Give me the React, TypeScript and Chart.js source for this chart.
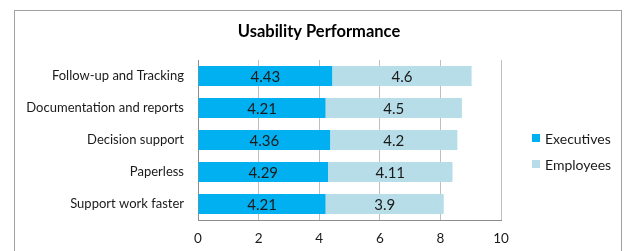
import React, { useEffect, useRef } from "react";
import { Chart, registerables } from "chart.js";

Chart.register(...registerables);

const categories = [
  "Follow-up and Tracking",
  "Documentation and reports",
  "Decision support",
  "Paperless",
  "Support work faster",
];
const executives = [4.43, 4.21, 4.36, 4.29, 4.21];
const employees = [4.6, 4.5, 4.2, 4.11, 3.9];
const seriesNames = ["Executives", "Employees"];
const xTicks = [0, 2, 4, 6, 8, 10];
const titleText = "Usability Performance";

const FONT = "Lato, 'Open Sans', sans-serif";

const labelPlugin = {
  id: "barLabels",
  afterDatasetsDraw(chart: any) {
    const ctx = chart.ctx;
    ctx.save();
    ctx.font = `15px ${FONT}`;
    ctx.fillStyle = "#1a1a1a";
    ctx.textAlign = "center";
    ctx.textBaseline = "middle";
    chart.data.datasets.forEach((ds: any, di: number) => {
      const meta = chart.getDatasetMeta(di);
      meta.data.forEach((bar: any, i: number) => {
        const x = (bar.x + bar.base) / 2;
        ctx.fillText(String(ds.data[i]), x, bar.y + 1);
      });
    });
    ctx.restore();
  },
};

const titleLegendPlugin = {
  id: "titleLegend",
  afterDraw(chart: any) {
    const ctx = chart.ctx;
    ctx.save();
    ctx.font = `bold 16.5px ${FONT}`;
    ctx.fillStyle = "#000";
    ctx.textAlign = "center";
    ctx.textBaseline = "middle";
    ctx.fillText(titleText, chart.width / 2 + 1, 21);
    ctx.font = `14px ${FONT}`;
    ctx.textAlign = "left";
    chart.data.datasets.forEach((ds: any, i: number) => {
      const y = 127 + i * 26;
      ctx.fillStyle = ds.backgroundColor;
      ctx.fillRect(517, y - 4, 8, 8);
      ctx.fillStyle = "#1a1a1a";
      ctx.fillText(ds.label, 530, y + 1);
    });
    ctx.restore();
  },
};

export default function App() {
  const ref = useRef<HTMLCanvasElement>(null);
  useEffect(() => {
    if (!ref.current) return;
    const chart = new Chart(ref.current, {
      type: "bar",
      data: {
        labels: categories,
        datasets: [
          {
            label: seriesNames[0],
            data: executives,
            backgroundColor: "#00B0F0",
            barPercentage: 0.625,
            categoryPercentage: 1,
          },
          {
            label: seriesNames[1],
            data: employees,
            backgroundColor: "#B7DEE8",
            barPercentage: 0.625,
            categoryPercentage: 1,
          },
        ],
      },
      options: {
        indexAxis: "y",
        animation: false,
        responsive: false,
        maintainAspectRatio: false,
        layout: { padding: { left: 0, right: 120, top: 49, bottom: 0 } },
        plugins: {
          legend: { display: false },
          title: { display: false },
          tooltip: { enabled: false },
        },
        scales: {
          x: {
            stacked: true,
            min: 0,
            max: 10,
            afterBuildTicks(scale: any) {
              scale.ticks = xTicks.map((v) => ({ value: v }));
            },
            afterFit(scale: any) {
              scale.height = 41;
            },
            grid: { color: "#bfbfbf", drawTicks: false, tickLength: 0 },
            border: { color: "#8c8c8c" },
            ticks: {
              padding: 11,
              color: "#1a1a1a",
              font: { family: FONT, size: 13.5 },
            },
          },
          y: {
            stacked: true,
            afterFit(scale: any) {
              scale.width = 183;
            },
            grid: { display: false, drawTicks: false, tickLength: 0 },
            border: { color: "#8c8c8c" },
            ticks: {
              padding: 14,
              color: "#1a1a1a",
              font: { family: FONT, size: 13 },
            },
          },
        },
      },
      plugins: [labelPlugin, titleLegendPlugin],
    } as any);
    return () => chart.destroy();
  }, []);

  return (
    <div
      style={{
        position: "absolute",
        left: 14,
        top: 10,
        width: 606,
        height: 250,
        border: "1px solid #a0a0a0",
        background: "#fff",
      }}
    >
      <canvas ref={ref} width={606} height={250} style={{ display: "block" }} />
    </div>
  );
}
